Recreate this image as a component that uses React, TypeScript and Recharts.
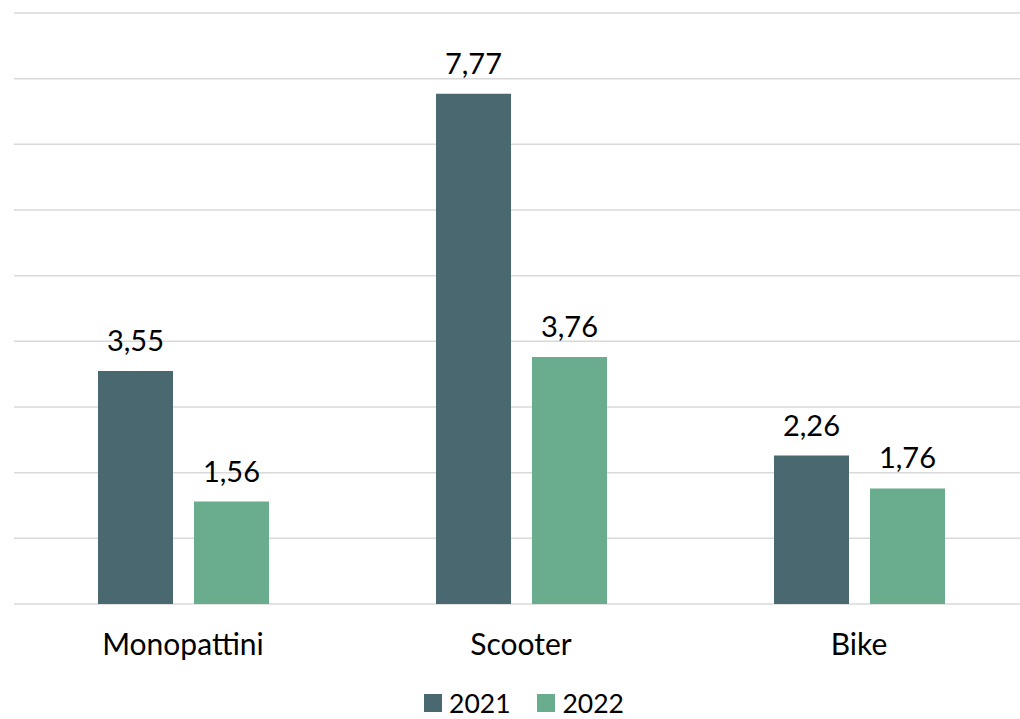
import React from "react";
import { BarChart, Bar, XAxis, YAxis, CartesianGrid, LabelList, Legend } from "recharts";

const categories = ["Monopattini", "Scooter", "Bike"];
const values2021 = [3.55, 7.77, 2.26];
const values2022 = [1.56, 3.76, 1.76];
const yTicks = [0, 1, 2, 3, 4, 5, 6, 7, 8, 9];

const data = categories.map((c, i) => ({ name: c, y2021: values2021[i], y2022: values2022[i] }));

const DARK = "#4a6870";
const GREEN = "#69ac8e";
const FONT = "Lato, 'Noto Sans', sans-serif";

const fmt = (v: number) => v.toFixed(2).replace(".", ",");

const LegendContent = () => (
  <div
    style={{
      display: "flex",
      justifyContent: "center",
      alignItems: "center",
      height: 40,
      boxSizing: "border-box",
      paddingTop: 7,
      paddingLeft: 6,
      fontFamily: FONT,
      fontSize: 26.5,
      lineHeight: "26px",
      color: "#000",
    }}
  >
    <span style={{ display: "inline-block", width: 18, height: 18, background: DARK, marginRight: 7 }} />
    <span style={{ marginRight: 26 }}>2021</span>
    <span style={{ display: "inline-block", width: 18, height: 18, background: GREEN, marginRight: 8 }} />
    <span>2022</span>
  </div>
);

export default function App() {
  return (
    <div style={{ position: "absolute", left: 0, top: 0, width: 1020, height: 719, overflow: "hidden", background: "#fff" }}>
      <BarChart
        width={1028}
        height={719}
        data={data}
        margin={{ top: 13, right: 0, left: 14, bottom: 0 }}
        barSize={75}
        barGap={21}
      >
        <CartesianGrid vertical={false} stroke="#d9d9d9" strokeWidth={1.5} />
        <XAxis
          dataKey="name"
          axisLine={false}
          tickLine={false}
          height={75}
          tickMargin={24}
          tick={{ fontFamily: FONT, fontSize: 30, fill: "#000" }}
          interval={0}
        />
        <YAxis hide domain={[0, 9]} ticks={yTicks} />
        <Legend verticalAlign="bottom" height={40} content={<LegendContent />} />
        <Bar dataKey="y2021" fill={DARK} isAnimationActive={false}>
          <LabelList dataKey="y2021" position="top" offset={20} formatter={(v: number) => fmt(v)} style={{ fontFamily: FONT, fontSize: 29, fill: "#000" }} />
        </Bar>
        <Bar dataKey="y2022" fill={GREEN} isAnimationActive={false}>
          <LabelList dataKey="y2022" position="top" offset={20} formatter={(v: number) => fmt(v)} style={{ fontFamily: FONT, fontSize: 29, fill: "#000" }} />
        </Bar>
      </BarChart>
    </div>
  );
}
